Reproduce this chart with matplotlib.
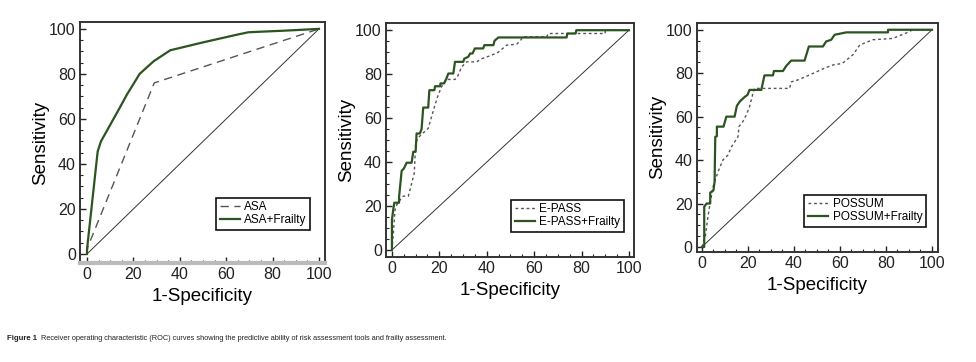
import numpy as np
import matplotlib
matplotlib.use("Agg")
import matplotlib.pyplot as plt
from matplotlib.ticker import MultipleLocator

plt.rcParams['font.family'] = ['Liberation Sans', 'DejaVu Sans']

########## DATA ##########

# panel 1: ASA
asa_x = [0, 0.3, 29, 100]
asa_y = [0, 3, 76, 100]
asa_fr_x = [0, 0, 4.6, 6, 13.6, 17.2, 22.7, 28.7, 35.9, 50, 65, 69.6, 85, 100]
asa_fr_y = [0, 2, 45.5, 50, 64, 70.8, 80, 85.6, 90.5, 94, 97.5, 98.5, 99.2, 100]

# panel 2: E-PASS
ep_x = [0, 0.6, 1, 1.3, 2, 3.4, 4.8, 6.9, 7.6, 8.3, 9.4, 9.7, 10, 11, 12.5, 15.3, 16.7, 17.9, 19.5,
        20.9, 23, 26.6, 27.5, 29.4, 31.5, 35.7, 37.8, 42, 44.9, 48.4, 52.6, 54, 55.4, 65.3, 65.9,
        90, 90, 100]
ep_y = [0, 7.6, 13.6, 18.2, 20.5, 22.7, 24.5, 24.5, 27.3, 30.3, 34.8, 41, 48.5, 51, 52.6, 55.3,
        60.6, 65, 70.5, 74.2, 77.6, 77.6, 78.5, 83.3, 85.6, 85.6, 87, 88.6, 90, 93.2, 93.6, 95, 97,
        97, 98.5, 98.5, 100, 100]
epf_x = [0, 0, 0.5, 1, 3, 3, 4.1, 5, 6.2, 8.3, 9, 10, 10.4, 11.8, 12.5, 13.2, 15.3, 15.8, 17.9,
         18.2, 20.3, 20.5, 22, 23, 23.8, 25.9, 26.6, 30.1, 30.5, 32.2, 33, 34, 35, 38.5, 39, 42.8,
         43.3, 44.9, 73.7, 74, 77.5, 77.8, 100]
epf_y = [0, 13.6, 18, 21.5, 21.5, 24, 36, 37, 39.7, 39.7, 44.7, 44.7, 53, 53, 55, 64.8, 64.8, 72.7,
         72.7, 74.5, 74.5, 75.8, 75.8, 78, 80.3, 80.3, 85.6, 85.6, 87, 87.9, 89.4, 89.4, 91.7, 91.7,
         93.2, 93.2, 95.2, 96.7, 96.7, 98.5, 98.5, 100, 100]

# panel 3: POSSUM
pos_x = [0, 1.5, 2.6, 3.3, 4.8, 7, 9.1, 11.3, 12.8, 15.7, 16.1, 17.8, 19.3, 20.7, 22.2, 22.9, 38.1,
         38.8, 42, 46.8, 53.3, 57, 61, 65.7, 68.6, 74.3, 83, 88.8, 91.7, 100]
pos_y = [0, 5, 13.8, 18.5, 27.7, 34.6, 40, 42.3, 46, 50.8, 55.4, 57.7, 60.8, 64.6, 70.8, 73, 73, 76,
         77, 79.2, 82.3, 83.8, 84.5, 88.5, 93, 95.4, 96, 98.5, 100, 100]
posf_x = [0, 1, 1, 2, 3.6, 3.6, 5, 5.5, 5.8, 6.5, 6.5, 9.4, 10.6, 14.2, 15.2, 16.5, 18.5, 19.8, 20.7,
          25.8, 27.2, 30.9, 31.3, 35.2, 36.7, 38.8, 44.6, 46.5, 52.6, 54, 56.2, 57.7, 62.8, 80.9,
          80.9, 100]
posf_y = [0, 0, 18.5, 20, 20, 25, 26, 30, 50.7, 51, 55.4, 55.4, 60, 60, 65, 67, 69, 70, 72.3, 72.3,
          79, 79, 81, 81, 83.4, 85.8, 85.8, 92.3, 92.3, 94.6, 95.4, 97.7, 98.8, 98.8, 100, 100]

ticks = [0, 20, 40, 60, 80, 100]
caption_bold = "Figure 1"
caption = "Receiver operating characteristic (ROC) curves showing the predictive ability of risk assessment tools and frailty assessment."

green = '#2c5420'
grey = '#555555'

########## FIGURE ##########

fig = plt.figure(figsize=(9.76, 3.62), dpi=100)

# [left, bottom, width, height], xlim, ylim, legend anchor
panels = [
    dict(rect=[0.082, 0.2735, 0.251, 0.666], xlim=(-3.0, 102.6), ylim=(-4.0, 103.1), anchor=(0.94, 0.137),
         base=(asa_x, asa_y, 'ASA', (0, (6, 4))),
         comb=(asa_fr_x, asa_fr_y, 'ASA+Frailty')),
    dict(rect=[0.3955, 0.290, 0.254, 0.646], xlim=(-2.5, 102.1), ylim=(-3.2, 103.2), anchor=(0.96, 0.107),
         base=(ep_x, ep_y, 'E-PASS', (0, (2, 2))),
         comb=(epf_x, epf_y, 'E-PASS+Frailty')),
    dict(rect=[0.714, 0.304, 0.247, 0.633], xlim=(-2.2, 102.6), ylim=(-2.3, 103.2), anchor=(0.95, 0.109),
         base=(pos_x, pos_y, 'POSSUM', (0, (2, 2))),
         comb=(posf_x, posf_y, 'POSSUM+Frailty')),
]

for i, p in enumerate(panels):
    ax = fig.add_axes(p['rect'])

    # reference diagonal
    ax.plot([0, 100], [0, 100], color='#333333', lw=0.7, zorder=1)

    bx, by, blabel, bstyle = p['base']
    ax.plot(bx, by, color=grey, lw=1.0, linestyle=bstyle, label=blabel, zorder=2)
    cx, cy, clabel = p['comb']
    ax.plot(cx, cy, color=green, lw=1.6, label=clabel, zorder=3)

    ax.set_xlim(*p['xlim'])
    ax.set_ylim(*p['ylim'])
    ax.set_xticks(ticks)
    ax.set_yticks(ticks)
    ax.xaxis.set_minor_locator(MultipleLocator(5))
    ax.yaxis.set_minor_locator(MultipleLocator(5))
    ax.tick_params(which='both', direction='in', top=False, right=False, colors='#222222')
    ax.tick_params(which='major', length=4, width=1.0, labelsize=11.5, pad=3)
    ax.tick_params(which='minor', length=2, width=0.8)

    for s in ax.spines.values():
        s.set_color('#333333')
        s.set_linewidth(1.4)
    if i == 0:
        ax.spines['bottom'].set_color('#bbbbbb')
        ax.spines['bottom'].set_linewidth(3)

    ax.set_xlabel('1-Specificity', fontsize=13.5, labelpad=4)
    ax.set_ylabel('Sensitivity', fontsize=13.5, labelpad=0)

    leg = ax.legend(loc='lower right', bbox_to_anchor=p['anchor'], fontsize=8.5, fancybox=False,
                    framealpha=1, edgecolor='#111111', handlelength=1.7, handletextpad=0.4,
                    borderpad=0.3, labelspacing=0.1, borderaxespad=0)
    leg.get_frame().set_linewidth(1.2)

########## caption ##########

bold = fig.text(7 / 976, 0.066, caption_bold, va='center', color='#222222', fontsize=5.6, fontweight='bold')
r = fig.canvas.get_renderer()
x_end = bold.get_window_extent(r).x1
fig.text((x_end + 4) / 976, 0.066, caption, va='center', color='#222222', fontsize=5.3)

fig.savefig('out.png', dpi=100)
